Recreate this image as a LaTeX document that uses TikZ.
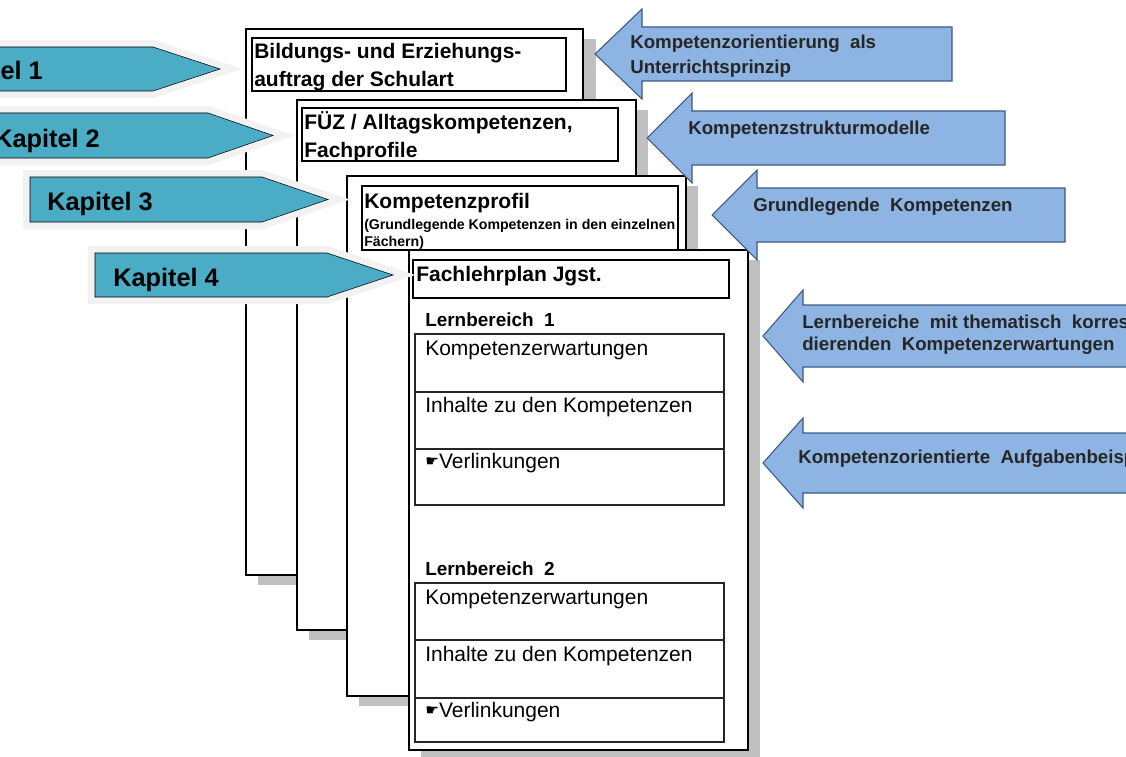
\documentclass[tikz,border=0pt]{standalone}
\usepackage{fontspec}
\setmainfont{Liberation Sans}
\newfontfamily\handfont{DejaVu Sans}
\usetikzlibrary{positioning}
\definecolor{kapitel}{HTML}{4BACC6}
\definecolor{kapitelrand}{HTML}{F2F2F2}
\definecolor{pfeil}{HTML}{8EB4E3}
\definecolor{pfeilrand}{HTML}{3A5A85}
\definecolor{schatten}{HTML}{C0C0C0}
\newcommand{\hand}{{\handfont\fontsize{11.5}{11.5}\selectfont\raisebox{1.5pt}{☛}}}

\tikzset{
  blatt/.style={draw=black, line width=0.9pt, fill=white},
  kopfbox/.style={draw=black, line width=1.6pt},
  zelle/.style={draw=black!85, line width=0.9pt},
  kapitelpfeil/.style={fill=kapitel, preaction={draw=kapitelrand, line width=10.5pt, line join=miter}},
  infopfeil/.style={fill=pfeil, draw=pfeilrand, line width=0.8pt, line join=miter},
  kapiteltext/.style={anchor=base west, inner sep=0pt, font=\bfseries\fontsize{19}{22}\selectfont},
  kopftext/.style={anchor=base west, inner sep=0pt, font=\bfseries\fontsize{15.75}{19}\selectfont},
  kleintext/.style={anchor=base west, inner sep=0pt, font=\bfseries\fontsize{10.6}{12}\selectfont},
  bereichtext/.style={anchor=base west, inner sep=0pt, font=\bfseries\fontsize{14.2}{16}\selectfont},
  zelltext/.style={anchor=base west, inner sep=0pt, font=\fontsize{15.75}{19}\selectfont},
  pfeiltext/.style={anchor=base west, inner sep=0pt, text=black!85, font=\bfseries\fontsize{14}{16}\selectfont}
}

\begin{document}
\begin{tikzpicture}[x=0.75pt, y=-0.75pt]
  \useasboundingbox (0,0) rectangle (1126,756);
  \clip (0,0) rectangle (1126,756);

  % Blaetter mit Schatten
  \fill[schatten] (258,39) rectangle (596,585);
  \draw[blatt] (246,29) rectangle (583,575);
  \fill[schatten] (309,110) rectangle (648,640);
  \draw[blatt] (297,100) rectangle (636,630);
  \fill[schatten] (359,186) rectangle (698,706);
  \draw[blatt] (347,176) rectangle (686,696);
  \fill[schatten] (421,260) rectangle (760,760);
  \draw[blatt] (409,250) rectangle (748,750);

  % Kopfzeilen
  \draw[kopfbox] (252,38) rectangle (566,91);
  \node[kopftext] (bildung1) at (254,59) {Bildungs- und Erziehungs-};
  \node[kopftext] (bildung2) at (254,87) {auftrag der Schulart};
  \draw[kopfbox] (302,108) rectangle (618,161);
  \node[kopftext] (fuez1) at (304,130) {FÜZ\ /\ Alltagskompetenzen,};
  \node[kopftext] (fuez2) at (304,157) {Fachprofile};
  \draw[kopfbox] (362,186) rectangle (678,250);
  \node[kopftext] (profil) at (364,208) {Kompetenzprofil};
  \node[kleintext] (profil1) at (364,229) {(Grundlegende Kompetenzen in den einzelnen};
  \node[kleintext] (profil2) at (364,246) {Fächern)};
  \draw[kopfbox] (413,260) rectangle (729,298);
  \node[kopftext] (lehrplan) at (416,281) {Fachlehrplan Jgst.};

  % Lernbereich 1
  \node[bereichtext] (bereich1) at (425,326) {Lernbereich\ \ 1};
  \draw[zelle] (415,334) rectangle (724,505);
  \draw[zelle] (415,392) -- (724,392);
  \draw[zelle] (415,449) -- (724,449);
  \node[zelltext] (erwart1) at (425,355) {Kompetenzerwartungen};
  \node[zelltext] (inhalt1) at (425,412) {Inhalte zu den Kompetenzen};
  \node[zelltext] (link1) at (425,468) {\hand Verlinkungen};

  % Lernbereich 2
  \node[bereichtext] (bereich2) at (425,575) {Lernbereich\ \ 2};
  \draw[zelle] (415,583) rectangle (724,742);
  \draw[zelle] (415,640) -- (724,640);
  \draw[zelle] (415,698) -- (724,698);
  \node[zelltext] (erwart2) at (425,604) {Kompetenzerwartungen};
  \node[zelltext] (inhalt2) at (425,661) {Inhalte zu den Kompetenzen};
  \node[zelltext] (link2) at (425,717) {\hand Verlinkungen};

  % Pfeile rechts
  \draw[infopfeil] (595,54) -- (642,9) -- (642,27) -- (952,27) -- (952,81) -- (642,81) -- (642,99) -- cycle;
  \node[pfeiltext] (prinzip1) at (630,49) {Kompetenzorientierung\ \ als};
  \node[pfeiltext] (prinzip2) at (630,74) {Unterrichtsprinzip};
  \draw[infopfeil] (647,138) -- (692,93) -- (692,111) -- (1005,111) -- (1005,165) -- (692,165) -- (692,183) -- cycle;
  \node[pfeiltext] (modelle) at (688,134) {Kompetenzstrukturmodelle};
  \draw[infopfeil] (712,215) -- (757,170) -- (757,188) -- (1065,188) -- (1065,242) -- (757,242) -- (757,260) -- cycle;
  \node[pfeiltext] (grundlegend) at (753,211) {Grundlegende\ \ Kompetenzen};
  \draw[infopfeil] (763,336) -- (803,290) -- (803,305) -- (1140,305) -- (1140,367) -- (803,367) -- (803,382) -- cycle;
  \node[pfeiltext] (thematisch1) at (802,328) {Lernbereiche\ \ mit thematisch\ \ korrespon-};
  \node[pfeiltext] (thematisch2) at (802,350) {dierenden\ \ Kompetenzerwartungen};
  \draw[infopfeil] (763,463) -- (803,418) -- (803,433) -- (1140,433) -- (1140,493) -- (803,493) -- (803,508) -- cycle;
  \node[pfeiltext] (aufgaben) at (798,463) {Kompetenzorientierte\ \ Aufgabenbeispiele};

  % Kapitel-Pfeile links
  \draw[kapitelpfeil] (-80,47) -- (153,47) -- (220,69) -- (153,91) -- (-80,91) -- cycle;
  \node[kapiteltext] (kap1) at (-63,80) {Kapitel 1};
  \draw[kapitelpfeil] (-23,113) -- (208,113) -- (273,135.5) -- (208,158) -- (-23,158) -- cycle;
  \node[kapiteltext] (kap2) at (-6,147) {Kapitel 2};
  \draw[kapitelpfeil] (30,177) -- (262,177) -- (328,199.5) -- (262,222) -- (30,222) -- cycle;
  \node[kapiteltext] (kap3) at (47,210) {Kapitel 3};
  \draw[kapitelpfeil] (95,253) -- (327,253) -- (393,275) -- (327,297) -- (95,297) -- cycle;
  \node[kapiteltext] (kap4) at (113,286) {Kapitel 4};
\end{tikzpicture}
\end{document}
